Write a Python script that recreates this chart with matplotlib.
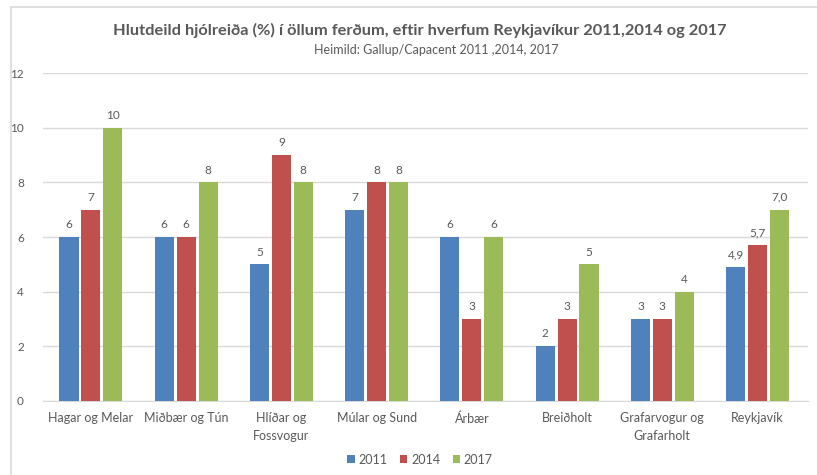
import matplotlib.pyplot as plt
import numpy as np
from matplotlib.patches import Rectangle

hverfi = ['Hagar og Melar', 'Miðbær og Tún', 'Hlíðar og\nFossvogur', 'Múlar og Sund',
          'Árbær', 'Breiðholt', 'Grafarvogur og\nGrafarholt', 'Reykjavík']
v2011 = [6, 6, 5, 7, 6, 2, 3, 4.9]
v2014 = [7, 6, 9, 8, 3, 3, 3, 5.7]
v2017 = [10, 8, 8, 8, 6, 5, 4, 7.0]
ar = ['2011', '2014', '2017']
litir = ['#4F81BD', '#C0504D', '#9BBB59']

plt.rcParams['font.family'] = ['Lato', 'DejaVu Sans']
grar = '#595959'

fig = plt.figure(figsize=(8.17, 4.75), dpi=100)
ax = fig.add_axes([0.053, 0.156, 0.936, 0.690])

# rammi utan um myndina
fig.patches.append(Rectangle((11/817, -0.1), 1.0, 1.0 - 7/475 + 0.1, transform=fig.transFigure,
                             fill=False, edgecolor='#D9D9D9', linewidth=1.2))

x = np.arange(len(hverfi))
w = 0.2
gap = 0.03
for i, (gogn, lit, ar_) in enumerate(zip([v2011, v2014, v2017], litir, ar)):
    pos = x + (i - 1) * (w + gap)
    bars = ax.bar(pos, gogn, w, color=lit, label=ar_, zorder=3)
    for j, (b, v) in enumerate(zip(bars, gogn)):
        txt = ('%.1f' % v).replace('.', ',') if j == len(hverfi) - 1 else '%d' % v
        ax.text(b.get_x() + b.get_width() / 2, v + 0.25, txt, ha='center', va='bottom',
                fontsize=8.5, color=grar)

ax.set_ylim(0, 12)
ax.set_yticks(range(0, 13, 2))
ax.set_xlim(-0.5, len(hverfi) - 0.47)
ax.set_xticks(x)
ax.set_xticklabels(hverfi, fontsize=9, color=grar, linespacing=1.6)
ax.tick_params(axis='y', labelsize=8.5, labelcolor=grar, length=0, pad=14)
ax.tick_params(axis='x', length=0, pad=8)
ax.grid(axis='y', color='#D9D9D9', linewidth=1, zorder=0)
for s in ['top', 'right', 'left']:
    ax.spines[s].set_visible(False)
ax.spines['bottom'].set_color('#D9D9D9')

fig.text(0.514, 0.935, 'Hlutdeild hjólreiða (%) í öllum ferðum, eftir hverfum Reykjavíkur 2011,2014 og 2017',
         ha='center', va='center', fontsize=11.8, fontweight='bold', color=grar)
fig.text(0.534, 0.895, 'Heimild: Gallup/Capacent 2011 ,2014, 2017',
         ha='center', va='center', fontsize=9, color=grar)

fig.legend(loc='center', bbox_to_anchor=(0.514, 0.032), ncol=3, frameon=False, fontsize=9,
           handlelength=0.6, handleheight=0.6, handletextpad=0.3, columnspacing=1.0,
           labelcolor=grar)

fig.savefig('out.png', dpi=100)
